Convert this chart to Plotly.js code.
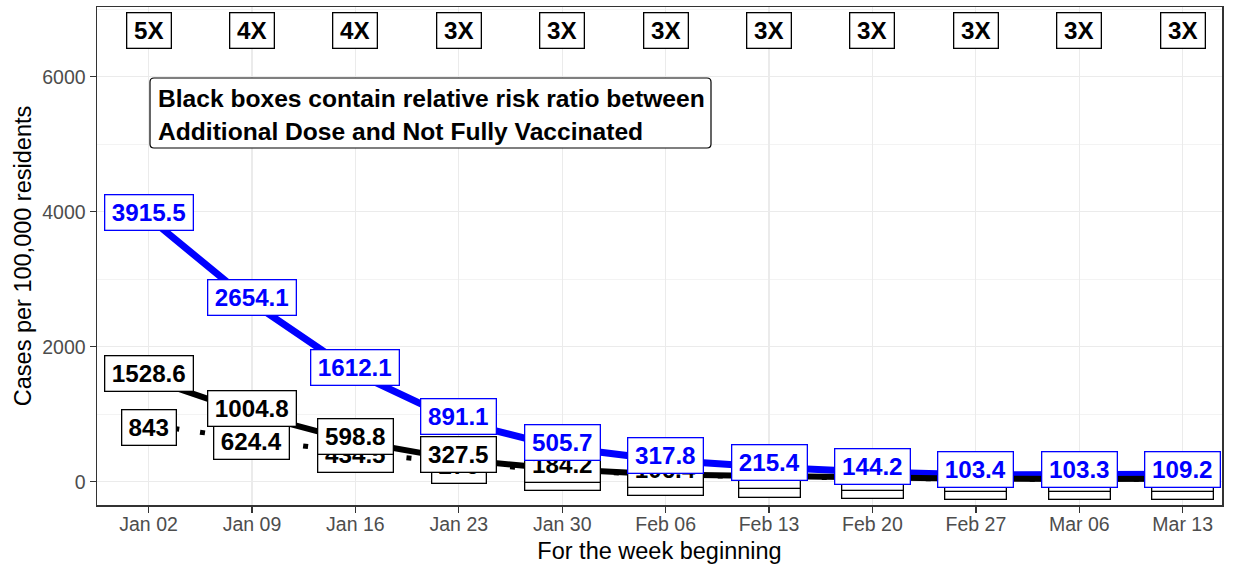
<!DOCTYPE html>
<html><head><meta charset="utf-8">
<script src="https://cdn.plot.ly/plotly-3.0.1.min.js"></script>
<style>html,body{margin:0;padding:0;background:#fff}#chart{width:1235px;height:567px}</style>
</head><body><div id="chart"></div>
<script>
// ---- data ----
const weeks = ['2022-01-02','2022-01-09','2022-01-16','2022-01-23','2022-01-30','2022-02-06','2022-02-13','2022-02-20','2022-02-27','2022-03-06','2022-03-13'];
const weekLabels = ['Jan 02','Jan 09','Jan 16','Jan 23','Jan 30','Feb 06','Feb 13','Feb 20','Feb 27','Mar 06','Mar 13'];
const notFullyVaccinated = [3915.5, 2654.1, 1612.1, 891.1, 505.7, 317.8, 215.4, 144.2, 103.4, 103.3, 109.2];
const fullyVaccinated = [1528.6, 1004.8, 598.8, 327.5, 184.2, 106.4, 84.6, 62.1, 44.3, 41.7, 43.9];
const additionalDose = [843, 624.4, 434.5, 276, 164.5, 101.4, 71.8, 52.3, 36.2, 35.8, 38.1];
const ratioLabels = ['5X','4X','4X','3X','3X','3X','3X','3X','3X','3X','3X'];
const yTicks = [0, 2000, 4000, 6000];
const noteLines = ['Black boxes contain relative risk ratio between', 'Additional Dose and Not Fully Vaccinated'];
const xTitle = 'For the week beginning';
const yTitle = 'Cases per 100,000 residents';

// ---- styling / placement ----
const FONT = 'Liberation Sans, Arial, sans-serif';
const LBL = 24.2, NOTE = 24.6;
const BLUE = '#0000FF';
const nudgeTop = 75, nudgeDot = -35, ratioRowY = 6680;

const cv = document.createElement('canvas').getContext('2d');
function tw(t){ cv.font = 'bold ' + LBL + 'px "Liberation Sans", Arial'; return cv.measureText(t).width; }
function lab(x, y, txt, color){
  return {x:x, y:y, xref:'x', yref:'y', text:'<b>'+txt+'</b>', showarrow:false,
    font:{family:FONT, size:LBL, color:color}, bgcolor:'#ffffff', bordercolor:color,
    borderwidth:1.3, borderpad:0, width:Math.round(tw(txt)+13), height:34,
    xanchor:'center', yanchor:'middle', align:'center', valign:'middle'};
}

const traces = [
  {x:weeks, y:notFullyVaccinated, type:'scatter', mode:'lines', line:{color:BLUE, width:7}, hoverinfo:'skip'},
  {x:weeks, y:fullyVaccinated, type:'scatter', mode:'lines', line:{color:'#000000', width:6}, hoverinfo:'skip'},
  {x:weeks, y:additionalDose, type:'scatter', mode:'lines', line:{color:'#000000', width:5, dash:'5px,21px'}, hoverinfo:'skip'}
];

const anns = [];
weeks.forEach((w,i)=>anns.push(lab(w, additionalDose[i]+nudgeDot, String(additionalDose[i]), '#000000')));
weeks.forEach((w,i)=>anns.push(lab(w, fullyVaccinated[i]+nudgeTop, String(fullyVaccinated[i]), '#000000')));
weeks.forEach((w,i)=>anns.push(lab(w, notFullyVaccinated[i]+nudgeTop, String(notFullyVaccinated[i]), BLUE)));
weeks.forEach((w,i)=>anns.push(lab(w, ratioRowY, ratioLabels[i], '#000000')));

// note box (paper coords derived from plot area pixels)
const L=97, R=1222, T=7, B=505, PW=R-L, PH=B-T;
const px = v => (v-L)/PW, py = v => 1-(v-T)/PH;
noteLines.forEach((t,i)=>anns.push({xref:'paper', yref:'paper', x:px(156), y:py(99+32*i), text:'<b>'+t+'</b>',
  showarrow:false, xanchor:'left', yanchor:'middle', align:'left', font:{family:FONT, size:NOTE, color:'#000'}}));

const bx0=150, bx1=711, by0=78, by1=148, r=4;
const pth = `M ${px(bx0+r)} ${py(by0)} L ${px(bx1-r)} ${py(by0)} Q ${px(bx1)} ${py(by0)} ${px(bx1)} ${py(by0+r)} L ${px(bx1)} ${py(by1-r)} Q ${px(bx1)} ${py(by1)} ${px(bx1-r)} ${py(by1)} L ${px(bx0+r)} ${py(by1)} Q ${px(bx0)} ${py(by1)} ${px(bx0)} ${py(by1-r)} L ${px(bx0)} ${py(by0+r)} Q ${px(bx0)} ${py(by0)} ${px(bx0+r)} ${py(by0)} Z`;

const layout = {
  width:1235, height:567, paper_bgcolor:'#fff', plot_bgcolor:'#fff',
  margin:{l:L, r:1235-R, t:T, b:567-B, pad:0},
  showlegend:false,
  font:{family:FONT, color:'#000'},
  xaxis:{type:'date', range:['2021-12-29 12:14','2022-03-15 15:50'], tickvals:weeks, ticktext:weekLabels,
    showgrid:true, gridcolor:'#ebebeb', gridwidth:1.2, zeroline:false,
    showline:true, mirror:true, linecolor:'#333333', linewidth:1.5,
    ticks:'outside', ticklen:6, tickwidth:1.3, tickcolor:'#333333', ticklabelstandoff:-5,
    tickfont:{family:FONT, size:19.5, color:'#4d4d4d'},
    title:{text:xTitle, font:{family:FONT, size:23.5, color:'#000'}, standoff:8}},
  yaxis:{range:[-345, 7033], tickvals:yTicks, ticktext:yTicks.map(String),
    showgrid:true, gridcolor:'#ebebeb', gridwidth:1.2, zeroline:false,
    minor:{dtick:1000, tick0:0, showgrid:true, gridcolor:'#ebebeb', gridwidth:0.6},
    showline:true, mirror:true, linecolor:'#333333', linewidth:1.5,
    ticks:'outside', ticklen:6, tickwidth:1.3, tickcolor:'#333333',
    tickfont:{family:FONT, size:19.5, color:'#4d4d4d'},
    title:{text:yTitle, font:{family:FONT, size:23.5, color:'#000'}, standoff:4}},
  shapes:[{type:'path', xref:'paper', yref:'paper', path:pth, line:{color:'#000', width:1.2}, fillcolor:'#fff', layer:'above'}],
  annotations:anns
};
Plotly.newPlot('chart', traces, layout, {displayModeBar:false, staticPlot:true});
</script></body></html>
